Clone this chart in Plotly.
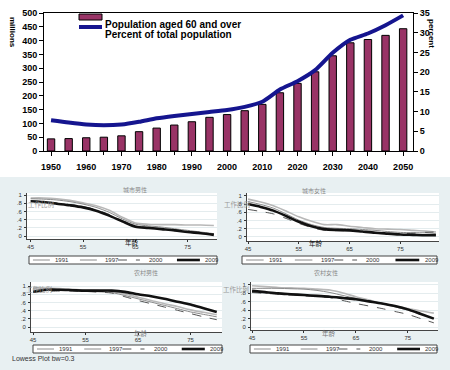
import plotly.graph_objects as go

# ---------------- data: top chart ----------------
YEARS = [1950, 1955, 1960, 1965, 1970, 1975, 1980, 1985, 1990, 1995, 2000,
         2005, 2010, 2015, 2020, 2025, 2030, 2035, 2040, 2045, 2050]
POP_60PLUS = [44, 45, 48, 50, 55, 70, 83, 94, 106, 122, 132,
              146, 169, 211, 245, 287, 345, 392, 404, 419, 443]
PCT_TOTAL = [7.8, 7.2, 6.7, 6.5, 6.7, 7.4, 8.3, 8.9, 9.4, 9.9, 10.4,
             11.2, 12.5, 15.6, 17.7, 20.5, 24.9, 28.2, 29.8, 31.9, 34.4]
LEFT_TICKS = [0, 50, 100, 150, 200, 250, 300, 350, 400, 450, 500]
RIGHT_TICKS = [0, 5, 10, 15, 20, 25, 30, 35]
X_TICKS = [1950, 1960, 1970, 1980, 1990, 2000, 2010, 2020, 2030, 2040, 2050]

# ---------------- data: lowess panels ----------------
AGES = [45, 47.5, 50, 52.5, 55, 57.5, 60, 62.5, 65, 67.5, 70, 72.5, 75, 77.5, 80]
AGES_UF = [45, 47.5, 50, 52.5, 55, 57.5, 60, 62.5, 65, 67.5, 70, 72.5, 75, 77.5, 80, 82]
SERIES_NAMES = ["1991", "1997", "2000", "2009"]
PANEL_TITLES = ["城市男性", "城市女性", "农村男性", "农村女性"]

URBAN_MALE = {
    "1991": [0.93, 0.93, 0.91, 0.87, 0.81, 0.74, 0.63, 0.46, 0.32, 0.29, 0.28, 0.28, 0.27, 0.27, 0.26],
    "1997": [0.91, 0.90, 0.88, 0.84, 0.78, 0.70, 0.58, 0.42, 0.29, 0.25, 0.22, 0.18, 0.14, 0.10, 0.06],
    "2000": [0.86, 0.84, 0.81, 0.77, 0.72, 0.64, 0.53, 0.38, 0.25, 0.21, 0.18, 0.15, 0.12, 0.08, 0.05],
    "2009": [0.85, 0.83, 0.79, 0.75, 0.70, 0.62, 0.50, 0.36, 0.23, 0.20, 0.17, 0.14, 0.10, 0.07, 0.03],
}
URBAN_FEMALE = {
    "1991": [0.92, 0.85, 0.76, 0.63, 0.49, 0.38, 0.30, 0.30, 0.26, 0.23, 0.20, 0.19, 0.18, 0.16, 0.14, 0.12],
    "1997": [0.86, 0.79, 0.70, 0.56, 0.41, 0.30, 0.23, 0.21, 0.20, 0.18, 0.16, 0.13, 0.11, 0.10, 0.10, 0.08],
    "2000": [0.67, 0.62, 0.56, 0.45, 0.33, 0.23, 0.16, 0.15, 0.15, 0.13, 0.11, 0.09, 0.08, 0.09, 0.11, 0.12],
    "2009": [0.80, 0.73, 0.64, 0.51, 0.37, 0.26, 0.19, 0.17, 0.16, 0.13, 0.10, 0.08, 0.06, 0.05, 0.04, 0.04],
}
RURAL_MALE = {
    "1991": [0.97, 0.95, 0.94, 0.92, 0.90, 0.89, 0.87, 0.81, 0.73, 0.65, 0.57, 0.50, 0.42, 0.36, 0.30],
    "1997": [0.93, 0.92, 0.91, 0.90, 0.88, 0.86, 0.84, 0.77, 0.69, 0.61, 0.53, 0.45, 0.37, 0.31, 0.25],
    "2000": [0.85, 0.87, 0.88, 0.88, 0.87, 0.85, 0.83, 0.74, 0.65, 0.57, 0.49, 0.41, 0.33, 0.25, 0.18],
    "2009": [0.86, 0.91, 0.91, 0.90, 0.89, 0.89, 0.89, 0.86, 0.80, 0.75, 0.69, 0.62, 0.55, 0.46, 0.37],
}
RURAL_FEMALE = {
    "1991": [0.98, 0.96, 0.94, 0.93, 0.92, 0.90, 0.88, 0.81, 0.72, 0.64, 0.56, 0.50, 0.44, 0.38, 0.33],
    "1997": [0.92, 0.92, 0.92, 0.91, 0.90, 0.87, 0.82, 0.75, 0.68, 0.62, 0.56, 0.48, 0.40, 0.30, 0.20],
    "2000": [0.82, 0.80, 0.78, 0.76, 0.74, 0.72, 0.70, 0.63, 0.56, 0.50, 0.44, 0.37, 0.30, 0.20, 0.10],
    "2009": [0.86, 0.83, 0.80, 0.78, 0.76, 0.74, 0.72, 0.69, 0.66, 0.61, 0.56, 0.50, 0.42, 0.31, 0.20],
}
SMALL_X_TICKS = [45, 55, 65, 75]
SMALL_Y_TICKS = [0, 0.2, 0.4, 0.6, 0.8, 1]
SMALL_Y_TEXT = ["0", ".2", ".4", ".6", ".8", "1"]

# ---------------- helpers ----------------
W, H = 450, 370
def X(px):
    return px / W
def Y(py):
    return 1 - py / H

BAR_COLOR = "#993366"
LINE_COLOR = "#15158f"
BG_LOW = "#E8F0F2"

STYLES = {
    "1991": dict(color="#b8b8b8", width=1.6, dash="solid"),
    "1997": dict(color="#8a8a8a", width=1.0, dash="solid"),
    "2000": dict(color="#555555", width=1.0, dash="dash"),
    "2009": dict(color="#111111", width=2.6, dash="solid"),
}
# legend key layout inside each small legend box (fractions of box width)
LEG_LINE_START = [0.021, 0.271, 0.473, 0.787]
LEG_LINE_LEN = [0.09, 0.09, 0.117, 0.122]
LEG_TEXT_START = [0.128, 0.394, 0.628, 0.926]

fig = go.Figure()

# ---------------- top chart ----------------
fig.add_trace(go.Bar(
    x=YEARS, y=POP_60PLUS, width=2.1,
    marker=dict(color=BAR_COLOR, line=dict(color="black", width=1)),
    xaxis="x", yaxis="y", showlegend=False, name="Population aged 60 and over"))
fig.add_trace(go.Scatter(
    x=YEARS, y=PCT_TOTAL, mode="lines", line=dict(color=LINE_COLOR, width=4, shape="spline", smoothing=0.6),
    xaxis="x", yaxis="y2", showlegend=False, name="Percent of total population"))

bold = dict(family="Arial", size=9, color="black", weight="bold")

layout = dict(
    width=W, height=H, margin=dict(l=0, r=0, t=0, b=0, pad=0, autoexpand=False),
    paper_bgcolor="white", plot_bgcolor="white",
    showlegend=False,
    xaxis=dict(domain=[X(44), X(413)], range=[1948.0, 2052.8], automargin=False,
               tickvals=X_TICKS, ticks="outside", ticklen=4, tickcolor="black",
               tickfont=bold, showline=True, linecolor="black", linewidth=1,
               mirror=True, showgrid=False, zeroline=False, ticklabelstandoff=3,
               minor=dict(dtick=5, ticks="outside", ticklen=3, tickcolor="black"),
               anchor="y"),
    yaxis=dict(domain=[Y(151), Y(13)], range=[0, 500], tickvals=LEFT_TICKS, automargin=False,
               ticks="outside", ticklen=4, tickcolor="black", tickfont=bold,
               showline=True, linecolor="black", linewidth=1, showgrid=False,
               zeroline=False, anchor="x"),
    yaxis2=dict(domain=[Y(151), Y(13)], range=[0, 35], tickvals=RIGHT_TICKS, automargin=False,
                overlaying="y", side="right", anchor="x",
                ticks="outside", ticklen=4, tickcolor="black", tickfont=bold,
                showline=True, linecolor="black", linewidth=1, showgrid=False,
                zeroline=False),
)

shapes = []
annotations = []

# axis titles of top chart
annotations.append(dict(x=X(6), y=Y(15), xref="paper", yref="paper", text="millions",
                        showarrow=False, textangle=90,
                        font=dict(family="Arial", size=8, color="black", weight="bold")))
annotations.append(dict(x=X(438), y=Y(17), xref="paper", yref="paper", text="percent",
                        showarrow=False, textangle=90,
                        font=dict(family="Arial", size=8, color="black", weight="bold")))
# legend of top chart
shapes.append(dict(type="rect", xref="paper", yref="paper", x0=X(79), x1=X(102),
                   y0=Y(20), y1=Y(14), fillcolor=BAR_COLOR, line=dict(color="black", width=1)))
shapes.append(dict(type="line", xref="paper", yref="paper", x0=X(79), x1=X(102),
                   y0=Y(27), y1=Y(27), line=dict(color=LINE_COLOR, width=4)))
annotations.append(dict(x=X(103), y=Y(17), xref="paper", yref="paper", xanchor="left",
                        text="Population aged 60 and over", showarrow=False,
                        font=dict(family="Arial", size=10, color="black", weight="bold")))
annotations.append(dict(x=X(103), y=Y(27), xref="paper", yref="paper", xanchor="left",
                        text="Percent of total population", showarrow=False,
                        font=dict(family="Arial", size=10, color="black", weight="bold")))

# ---------------- lower section ----------------
shapes.append(dict(type="rect", xref="paper", yref="paper", x0=0, x1=1, y0=0, y1=Y(177),
                   fillcolor=BG_LOW, line=dict(width=0), layer="below"))

panels = [
    dict(data=URBAN_MALE, ages=AGES, n=3, xd=(27, 217), yd=(193, 239), xr=[44.3, 80.6], yr=[-0.07, 1.05],
         title=(121, 189), ytitle=(26, 204), xtitle=(123, 249), xtc="#111", leg=(29, 217, 256, 264)),
    dict(data=URBAN_FEMALE, ages=AGES_UF, n=4, xd=(247, 439), yd=(193, 241), xr=[44.8, 82.6], yr=[-0.1, 1.07],
         title=(328, 190), ytitle=(237, 204), xtitle=(325, 250), xtc="#111", leg=(242, 437, 256, 264)),
    dict(data=RURAL_MALE, ages=AGES, n=5, xd=(31, 222), yd=(282, 332), xr=[44.6, 81.0], yr=[-0.12, 1.1],
         title=(132, 279), ytitle=(24, 296), xtitle=(132, 340), xtc="#777", leg=(33, 222, 345, 353)),
    dict(data=RURAL_FEMALE, ages=AGES, n=6, xd=(251, 438), yd=(282, 330), xr=[44.8, 80.8], yr=[-0.07, 1.07],
         title=(340, 279), ytitle=(236, 296), xtitle=(338, 340), xtc="#777", leg=(250, 437, 345, 353)),
]

small_font = dict(family="Arial", size=6, color="#333333")
for i, p in enumerate(panels):
    n = p["n"]
    xa, ya = f"xaxis{n}", f"yaxis{n}"
    layout[xa] = dict(domain=[X(p["xd"][0]), X(p["xd"][1])], range=p["xr"], anchor=f"y{n}",
                      automargin=False,
                      tickvals=SMALL_X_TICKS, ticks="outside", ticklen=2, tickcolor="#333",
                      tickfont=small_font, showline=True, linecolor="#444", linewidth=1,
                      showgrid=False, zeroline=False, ticklabelstandoff=0)
    layout[ya] = dict(domain=[Y(p["yd"][1]), Y(p["yd"][0])], range=p["yr"], anchor=f"x{n}",
                      automargin=False,
                      tickvals=SMALL_Y_TICKS, ticktext=SMALL_Y_TEXT, ticks="outside", ticklen=2,
                      tickcolor="#333", tickfont=small_font, showline=True, linecolor="#444",
                      linewidth=1, showgrid=True, gridcolor="#E4ECEE", gridwidth=1, zeroline=False,
                      ticklabelstandoff=1)
    shapes.append(dict(type="rect", xref=f"x{n} domain", yref=f"y{n} domain", x0=0, x1=1, y0=0, y1=1,
                       fillcolor="white", line=dict(width=0), layer="below"))
    for name in SERIES_NAMES:
        st = STYLES[name]
        fig.add_trace(go.Scatter(x=p["ages"], y=p["data"][name], mode="lines", name=name,
                                 line=dict(color=st["color"], width=st["width"], dash=st["dash"],
                                           shape="spline", smoothing=0.8),
                                 xaxis=f"x{n}", yaxis=f"y{n}", showlegend=False))
    annotations.append(dict(x=X(p["title"][0]), y=Y(p["title"][1]), xref="paper", yref="paper",
                            text=PANEL_TITLES[i], showarrow=False,
                            font=dict(family="Noto Sans CJK SC", size=6, color="#888888")))
    annotations.append(dict(x=X(p["ytitle"][0]), y=Y(p["ytitle"][1]), xref="paper", yref="paper",
                            text="工作比例", showarrow=False,
                            font=dict(family="Noto Sans CJK SC", size=6.5, color="#999999")))
    annotations.append(dict(x=X(p["xtitle"][0]), y=Y(p["xtitle"][1]), xref="paper", yref="paper",
                            text="年龄", showarrow=False,
                            font=dict(family="Noto Sans CJK SC", size=6.5, color=p["xtc"])))
    lx0, lx1, ly0, ly1 = p["leg"]
    wdt = lx1 - lx0
    shapes.append(dict(type="rect", xref="paper", yref="paper", x0=X(lx0), x1=X(lx1),
                       y0=Y(ly1), y1=Y(ly0), fillcolor="white", line=dict(color="#444", width=1)))
    ym = (ly0 + ly1) / 2
    for j, name in enumerate(SERIES_NAMES):
        st = STYLES[name]
        s0 = LEG_LINE_START[j]
        shapes.append(dict(type="line", xref="paper", yref="paper",
                           x0=X(lx0 + wdt * s0), x1=X(lx0 + wdt * (s0 + LEG_LINE_LEN[j])),
                           y0=Y(ym), y1=Y(ym),
                           line=dict(color=st["color"], width=st["width"], dash=st["dash"])))
        annotations.append(dict(x=X(lx0 + wdt * LEG_TEXT_START[j]), y=Y(ym), xref="paper", yref="paper",
                                xanchor="left", yanchor="middle", text=name, showarrow=False,
                                font=dict(family="Arial", size=6, color="#333333")))

annotations.append(dict(x=X(10), y=Y(364), xref="paper", yref="paper", xanchor="left",
                        text="Lowess Plot bw=0.3", showarrow=False,
                        font=dict(family="Arial", size=7, color="#333333")))

layout["shapes"] = shapes
layout["annotations"] = annotations
fig.update_layout(**layout)
fig.write_html("out.html", config={"displayModeBar": False},
               post_script="document.body.style.margin='0';document.body.style.overflow='hidden';")
